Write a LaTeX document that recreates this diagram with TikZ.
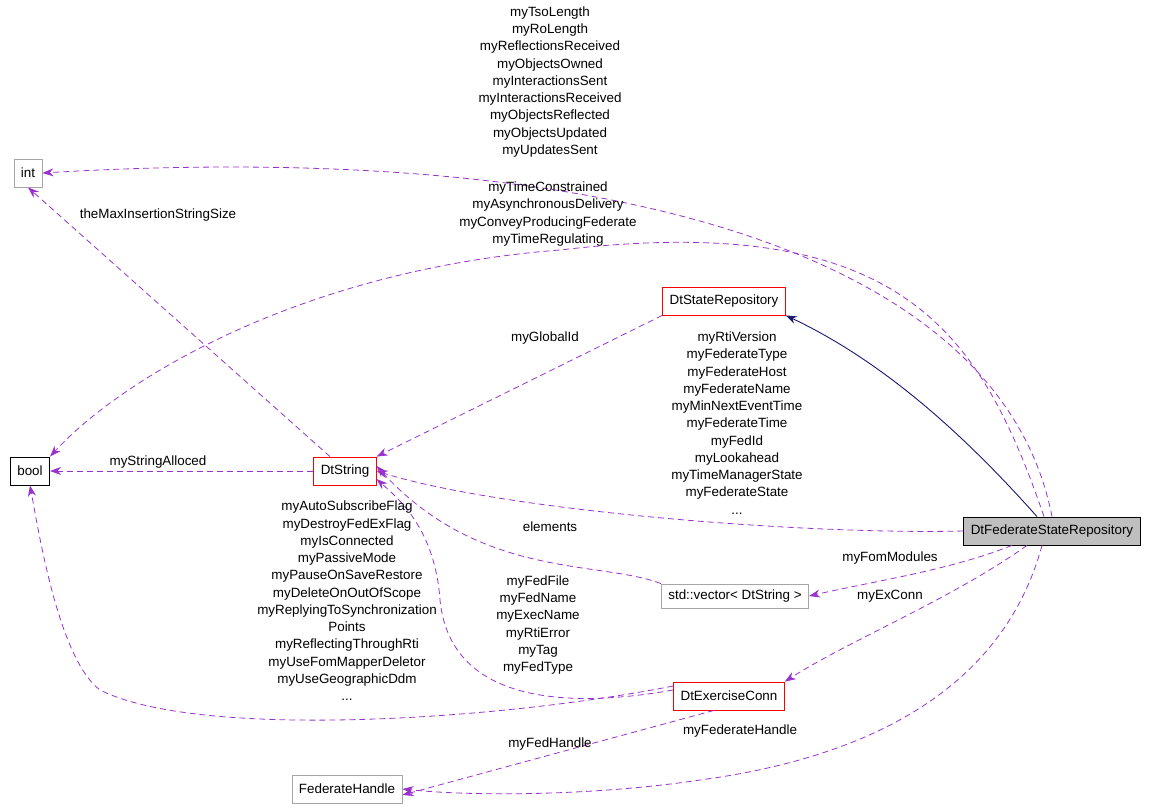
\documentclass[tikz,border=0pt]{standalone}
\usepackage{fontspec}
\setmainfont{Liberation Sans}
\usetikzlibrary{arrows.meta}
\definecolor{dpurple}{RGB}{153,50,204}
\definecolor{dnavy}{RGB}{25,25,112}
\begin{document}
\begin{tikzpicture}[x=1pt,y=-1pt,
 box/.style={draw,rectangle,minimum height=28pt,inner xsep=7pt,font=\fontsize{13.4}{16}\selectfont,line width=0.8pt},
 rbox/.style={box,draw=red},
 gbox/.style={box,draw=black!35},
 dep/.style={draw=dpurple,dashed,dash pattern=on 6pt off 4pt,line width=0.8pt,-{Stealth[length=11pt,width=8pt]}},
 inh/.style={draw=dnavy,line width=0.9pt,-{Stealth[length=11pt,width=8pt]}},
 lab/.style={font=\fontsize{13.4}{17.25}\selectfont,align=center,inner sep=0pt}]
\useasboundingbox (0,0) rectangle (1149,811);
\node[gbox] (int) at (28,173) {int};
\node[box] (bool) at (30,471) {bool};
\node[rbox] (str) at (345,471) {DtString};
\node[rbox] (dsr) at (724,301) {DtStateRepository};
\node[box,fill=black!25] (fsr) at (1052,531) {DtFederateStateRepository};
\node[gbox,minimum height=24pt] (vec) at (735,596) {std::vector< DtString >};
\node[rbox] (ec) at (729,696) {DtExerciseConn};
\node[gbox] (fh) at (347,789) {FederateHandle};

\draw[dep] (fsr.north) .. controls (1000,250) and (600,140) .. (int.east);
\node[lab] at (550,82) {myTsoLength\\myRoLength\\myReflectionsReceived\\myObjectsOwned\\myInteractionsSent\\myInteractionsReceived\\myObjectsReflected\\myObjectsUpdated\\myUpdatesSent};
\draw[dep] ([xshift=-8pt]fsr.north) .. controls (980,330) and (900,210) .. (560,250) .. controls (300,270) and (120,380) .. (bool.north east);
\node[lab] at (548,214) {myTimeConstrained\\myAsynchronousDelivery\\myConveyProducingFederate\\myTimeRegulating};
\draw[inh] ([xshift=-15pt]fsr.north) .. controls (960,430) and (880,360) .. (dsr.south east);
\draw[dep] (fsr.west) .. controls (800,535) and (500,510) .. (str.east);
\node[lab] at (737,423) {myRtiVersion\\myFederateType\\myFederateHost\\myFederateName\\myMinNextEventTime\\myFederateTime\\myFedId\\myLookahead\\myTimeManagerState\\myFederateState\\...};
\draw[dep] ([xshift=-40pt]fsr.south) .. controls (950,570) and (880,580) .. (vec.east);
\node[lab] at (890,558) {myFomModules};
\draw[dep] ([xshift=-25pt]fsr.south) .. controls (950,600) and (850,640) .. (ec.north east);
\node[lab] at (890,596) {myExConn};
\draw[dep] ([xshift=-10pt]fsr.south) .. controls (1000,700) and (850,760) .. (700,780) .. controls (600,795) and (480,797) .. (fh.east);
\node[lab] at (740,731) {myFederateHandle};
\draw[dep] (dsr.south west) -- (str.north east);
\node[lab] at (545,338) {myGlobalId};
\draw[dep] ([xshift=-15pt]str.north) -- (int.south);
\node[lab] at (158,215) {theMaxInsertionStringSize};
\draw[dep] (str.west) -- (bool.east);
\node[lab] at (158,462) {myStringAlloced};
\draw[dep] (vec.north west) .. controls (600,560) and (480,580) .. ([yshift=5pt]str.east);
\node[lab] at (550,527) {elements};
\draw[dep] ([yshift=6pt]ec.west) .. controls (560,710) and (450,700) .. (440,600) .. controls (435,530) and (400,500) .. ([yshift=-8pt]str.east);
\node[lab] at (538,625) {myFedFile\\myFedName\\myExecName\\myRtiError\\myTag\\myFedType};
\draw[dep] ([yshift=10pt]ec.west) .. controls (500,720) and (200,740) .. (100,690) .. controls (60,660) and (40,540) .. (bool.south);
\node[lab] at (347,601) {myAutoSubscribeFlag\\myDestroyFedExFlag\\myIsConnected\\myPassiveMode\\myPauseOnSaveRestore\\myDeleteOnOutOfScope\\myReplyingToSynchronization\\Points\\myReflectingThroughRti\\myUseFomMapperDeletor\\myUseGeographicDdm\\...};
\draw[dep] ([xshift=-15pt]ec.south) -- ([yshift=-6pt]fh.east);
\node[lab] at (550,744) {myFedHandle};
\end{tikzpicture}
\end{document}
